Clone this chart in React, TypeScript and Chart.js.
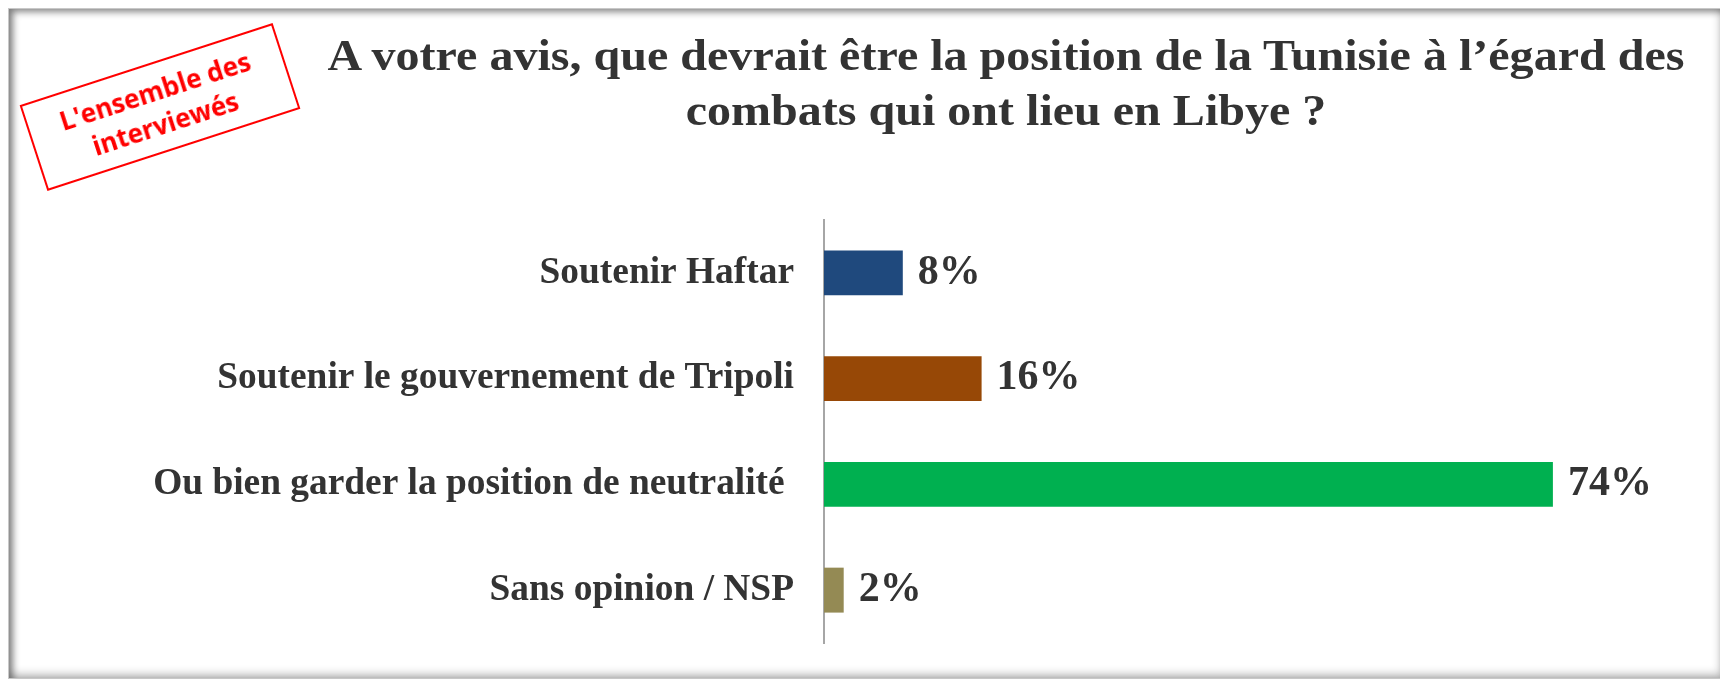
import React, { useEffect, useRef } from "react";
import { Chart, registerables } from "chart.js";

Chart.register(...registerables);

const categories = [
  "Soutenir Haftar",
  "Soutenir le gouvernement de Tripoli",
  "Ou bien garder la position de neutralité ",
  "Sans opinion / NSP",
];
const values = [8, 16, 74, 2];
const barColors = ["#1F497D", "#974806", "#00B050", "#948A54"];
const titleLines = [
  "A votre avis, que devrait être la position de la Tunisie à l’égard des",
  "combats qui ont lieu en Libye ?",
];
const stampLines = ["L'ensemble des", "interviewés"];

const FRAME_W = 1714;
const FRAME_H = 671;

const valueLabelPlugin = {
  id: "valueLabels",
  afterDatasetsDraw(chart: any) {
    const ctx = chart.ctx;
    const meta = chart.getDatasetMeta(0);
    ctx.save();
    ctx.font = "bold 42px 'Liberation Serif'";
    ctx.fillStyle = "#333333";
    ctx.textAlign = "left";
    ctx.textBaseline = "middle";
    meta.data.forEach((bar: any, i: number) => {
      ctx.fillText(values[i] + "%", bar.x + 15, bar.y);
    });
    ctx.restore();
  },
};

export default function App() {
  const canvasRef = useRef<HTMLCanvasElement | null>(null);

  useEffect(() => {
    if (!canvasRef.current) return;
    const chart = new Chart(canvasRef.current, {
      type: "bar",
      data: {
        labels: categories,
        datasets: [
          {
            data: values,
            backgroundColor: barColors,
            borderWidth: 0,
            categoryPercentage: 1,
            barPercentage: 0.425,
          },
        ],
      },
      options: {
        indexAxis: "y",
        responsive: false,
        animation: false,
        layout: { padding: { left: 0, right: 110, top: 212, bottom: 36 } },
        plugins: {
          legend: { display: false },
          title: { display: false },
          tooltip: { enabled: false },
        },
        scales: {
          x: { type: "linear", min: 0, max: 80, display: false },
          y: {
            type: "category",
            grid: { display: false, drawTicks: false },
            border: { display: true, color: "#A6A6A6", width: 2 },
            ticks: {
              autoSkip: false,
              padding: 30,
              color: "#333333",
              font: { family: "'Liberation Serif'", size: 37.4, weight: "bold" },
            },
            afterFit: (scale: any) => {
              scale.width = 816;
              scale.paddingTop = 0;
              scale.paddingBottom = 0;
            },
          },
        },
      },
      plugins: [valueLabelPlugin],
    } as any);
    return () => chart.destroy();
  }, []);

  return (
    <div
      style={{
        position: "relative",
        width: FRAME_W,
        height: FRAME_H,
        boxSizing: "border-box",
        border: "1px solid #c8c8c8",
        boxShadow:
          "inset 4px 3px 7px rgba(0,0,0,0.45), inset -1px -4px 8px rgba(0,0,0,0.25)",
        background: "#ffffff",
        overflow: "hidden",
      }}
    >
      <canvas
        ref={canvasRef}
        width={FRAME_W}
        height={FRAME_H}
        style={{ position: "absolute", left: -1, top: -1 }}
      />
      <div
        style={{
          position: "absolute",
          left: 297,
          top: 19,
          width: 1400,
          textAlign: "center",
          fontFamily: "'Liberation Serif'",
          fontWeight: "bold",
          fontSize: 44,
          lineHeight: "55px",
          color: "#333333",
          whiteSpace: "nowrap",
          transform: "scaleX(1.092)",
          transformOrigin: "center",
        }}
      >
        {titleLines.map((l, i) => (
          <div key={i}>{l}</div>
        ))}
      </div>
      <div
        style={{
          position: "absolute",
          left: 151 - 133,
          top: 97.5 - 45,
          width: 266,
          height: 90,
          boxSizing: "border-box",
          border: "2px solid #FF0000",
          transform: "rotate(-18deg)",
          display: "flex",
          flexDirection: "column",
          justifyContent: "center",
          alignItems: "center",
          fontFamily: "'Open Sans'",
          fontWeight: "bold",
          fontSize: 26,
          lineHeight: "34px",
          color: "#FF0000",
          background: "#ffffff",
        }}
      >
        {stampLines.map((l, i) => (
          <div key={i}>{l}</div>
        ))}
      </div>
    </div>
  );
}
